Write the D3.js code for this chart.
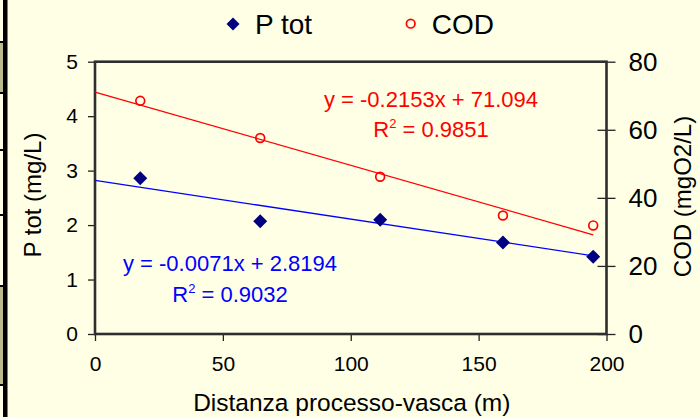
<!DOCTYPE html>
<html>
<head>
<meta charset="utf-8">
<script src="https://cdn.jsdelivr.net/npm/d3@7"></script>
<style>
  html, body { margin: 0; padding: 0; background: #FFFFE6; }
  svg { display: block; font-family: "Liberation Sans", Arial, sans-serif; }
</style>
</head>
<body>
<div class="chart"></div>
<script>
(function() {
    'use strict';

    // DATA *************************************************************
    var distances = [17.7, 64.6, 111.5, 159.5, 194.8];   // m
    var pTot      = [2.86, 2.07, 2.10, 1.68, 1.42];      // mg/L
    var cod       = [68.5, 57.6, 46.2, 34.8, 31.9];      // mgO2/L

    // trend lines (as printed on the chart)
    var pTotTrend = [-0.0071, 2.8194];   // slope, intercept
    var codTrend  = [-0.2153, 71.094];
    var pTotR2 = '0.9032';
    var codR2  = '0.9851';

    var xTicks  = [0, 50, 100, 150, 200];
    var yLTicks = [0, 1, 2, 3, 4, 5];
    var yRTicks = [0, 20, 40, 60, 80];

    var seriesNames = ['P tot', 'COD'];

    // SVG ****************************************************************
    var W = 700, H = 417;
    var svg = d3.select('.chart').append('svg')
                .attr('width', W)
                .attr('height', H);

    svg.append('rect').attr('width', W).attr('height', H).attr('fill', '#FFFFE6');

    // left decorative strip (cut off table border)
    var strip = svg.append('g');
    [[42, 93], [287, 385]].forEach(function(s) {
        strip.append('rect').attr('x', 0).attr('y', s[0]).attr('width', 3).attr('height', s[1] - s[0]).attr('fill', '#BDBA8E');
    });
    [42, 93, 150, 215, 286, 385].forEach(function(y) {
        strip.append('rect').attr('x', 0).attr('y', y - 1).attr('width', 4).attr('height', 2).attr('fill', '#000');
    });
    strip.append('rect').attr('x', 3).attr('y', 0).attr('width', 4.5).attr('height', H).attr('fill', '#000');

    // SCALES
    var left = 95, right = 606.5, top = 61.7, bottom = 334;
    var xScale  = d3.scaleLinear().domain([0, 200]).range([left, right]);
    var yLScale = d3.scaleLinear().domain([0, 5]).range([bottom, top]);
    var yRScale = d3.scaleLinear().domain([0, 80]).range([bottom, top]);

    var fmt = d3.format('d');

    // AXES
    var xAxisG = svg.append('g')
        .attr('transform', 'translate(0,' + bottom + ')')
        .call(d3.axisBottom(xScale).tickValues(xTicks).tickFormat(fmt).tickSize(7).tickSizeOuter(0).tickPadding(15));
    xAxisG.selectAll('text').attr('font-size', 21);

    var yLAxisG = svg.append('g')
        .attr('transform', 'translate(' + left + ',0)')
        .call(d3.axisLeft(yLScale).tickValues(yLTicks).tickFormat(fmt).tickSize(7).tickSizeOuter(0).tickPadding(10));
    yLAxisG.selectAll('text').attr('font-size', 21);

    var yRAxisG = svg.append('g')
        .attr('transform', 'translate(' + right + ',0)')
        .call(d3.axisRight(yRScale).tickValues(yRTicks).tickFormat(fmt).tickSize(9).tickSizeOuter(0).tickPadding(13));
    yRAxisG.selectAll('text').attr('font-size', 26);
    yRAxisG.selectAll('.tick line').attr('x1', -9);

    svg.selectAll('.domain').remove();
    svg.selectAll('.tick line').attr('stroke', '#222').attr('stroke-width', 1.3);
    svg.selectAll('.tick text').attr('fill', '#000').attr('font-family', '"Liberation Sans", Arial, sans-serif');

    // plot frame
    svg.append('rect')
        .attr('x', left).attr('y', top)
        .attr('width', right - left).attr('height', bottom - top)
        .attr('fill', 'none')
        .attr('stroke', '#2e2e2e')
        .attr('stroke-width', 2.6);

    // TREND LINES
    var xMax = d3.max(distances);
    var trendLine = d3.line()
        .x(function(d) { return xScale(d[0]); })
        .y(function(d) { return d[1]; });

    svg.append('path')
        .attr('d', trendLine([0, xMax].map(function(x) { return [x, yRScale(codTrend[0] * x + codTrend[1])]; })))
        .attr('stroke', '#FF0000').attr('stroke-width', 1.3).attr('fill', 'none');

    svg.append('path')
        .attr('d', trendLine([0, xMax].map(function(x) { return [x, yLScale(pTotTrend[0] * x + pTotTrend[1])]; })))
        .attr('stroke', '#0000FF').attr('stroke-width', 1.3).attr('fill', 'none');

    // MARKERS
    var diamond = d3.symbol().type(d3.symbolSquare).size(98);

    svg.append('g').selectAll('path')
        .data(distances)
        .enter().append('path')
        .attr('d', diamond)
        .attr('transform', function(d, i) {
            return 'translate(' + xScale(d) + ',' + yLScale(pTot[i]) + ') rotate(45)';
        })
        .attr('fill', '#000080');

    svg.append('g').selectAll('circle')
        .data(distances)
        .enter().append('circle')
        .attr('cx', function(d) { return xScale(d); })
        .attr('cy', function(d, i) { return yRScale(cod[i]); })
        .attr('r', 4.4)
        .attr('fill', 'none')
        .attr('stroke', '#FF0000')
        .attr('stroke-width', 1.7);

    // EQUATIONS
    function equation(x, y, color, coeffs, r2) {
        var sign = coeffs[1] >= 0 ? ' + ' : ' - ';
        svg.append('text')
            .attr('x', x).attr('y', y)
            .attr('text-anchor', 'middle')
            .attr('font-size', 22)
            .attr('fill', color)
            .text('y = ' + coeffs[0] + 'x' + sign + Math.abs(coeffs[1]));
        var t = svg.append('text')
            .attr('x', x).attr('y', y + 30.5)
            .attr('text-anchor', 'middle')
            .attr('font-size', 22)
            .attr('fill', color);
        t.append('tspan').text('R');
        t.append('tspan').attr('dy', -9).attr('font-size', 13).text('2');
        t.append('tspan').attr('dy', 9).text(' = ' + r2);
    }
    equation(431, 106.7, '#FF0000', codTrend, codR2);
    equation(230, 271, '#0000FF', pTotTrend, pTotR2);

    // AXIS TITLES
    svg.append('text')
        .attr('transform', 'translate(40.5,195) rotate(-90)')
        .attr('text-anchor', 'middle')
        .attr('font-size', 24)
        .text('P tot (mg/L)');

    svg.append('text')
        .attr('transform', 'translate(691,196.5) rotate(-90)')
        .attr('text-anchor', 'middle')
        .attr('font-size', 24)
        .text('COD (mgO2/L)');

    svg.append('text')
        .attr('x', (left + right) / 2 + 1)
        .attr('y', 411)
        .attr('text-anchor', 'middle')
        .attr('font-size', 24.5)
        .text('Distanza processo-vasca (m)');

    // LEGEND
    var legend = svg.append('g');
    legend.append('path')
        .attr('d', d3.symbol().type(d3.symbolSquare).size(85))
        .attr('transform', 'translate(233,24) rotate(45)')
        .attr('fill', '#000080');
    legend.append('text')
        .attr('x', 255).attr('y', 33.5)
        .attr('font-size', 28)
        .text(seriesNames[0]);
    legend.append('circle')
        .attr('cx', 410.7).attr('cy', 23.7).attr('r', 4.3)
        .attr('fill', 'none').attr('stroke', '#FF0000').attr('stroke-width', 1.7);
    legend.append('text')
        .attr('x', 431.7).attr('y', 33.5)
        .attr('font-size', 28)
        .text(seriesNames[1]);

}());
</script>
</body>
</html>
